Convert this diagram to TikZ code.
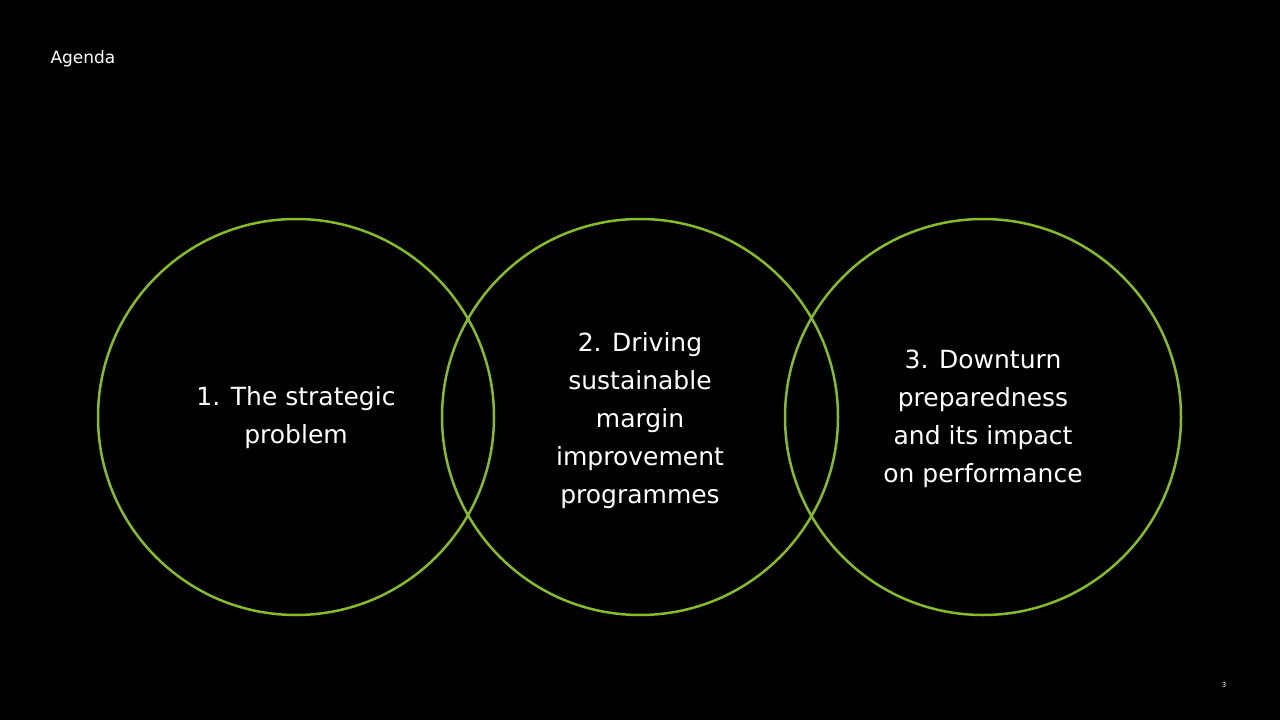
\documentclass[tikz,border=0pt]{standalone}
\usepackage{fontspec}
\setmainfont{DejaVu Sans}
\definecolor{dgreen}{HTML}{86BC25}
\begin{document}
\begin{tikzpicture}[x=1pt,y=-1pt,
  ring/.style={draw=dgreen,line width=2.5pt,circle,minimum size=396pt,inner sep=0pt},
  lbl/.style={text=white,align=center,font=\fontsize{25}{38}\selectfont}]
\fill[black] (0,0) rectangle (1280,720);
\useasboundingbox (0,0) rectangle (1280,720);
\node[anchor=west,text=white,font=\fontsize{17}{20}\selectfont] (title) at (47,59) {Agenda};
\node[ring] (c1) at (296,417) {};
\node[ring] (c2) at (640,417) {};
\node[ring] (c3) at (983,417) {};
\node[lbl] (t1) at (296,418) {1. The strategic\\problem};
\node[lbl] (t2) at (640,421) {2. Driving\\sustainable\\margin\\improvement\\programmes};
\node[lbl] (t3) at (983,419) {3. Downturn\\preparedness\\and its impact\\on performance};
\node[text=white,font=\fontsize{7}{8}\selectfont] (pg) at (1224,685) {3};
\end{tikzpicture}
\end{document}
